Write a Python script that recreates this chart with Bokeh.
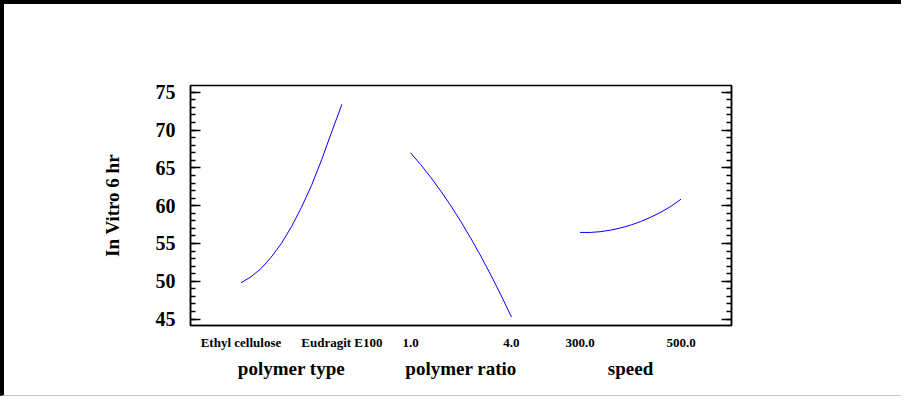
from bokeh.plotting import figure
from bokeh.models import Range1d, LinearAxis, FixedTicker
from bokeh.embed import file_html
from bokeh.resources import INLINE

# ---- data ----
factor_names = ["polymer type", "polymer ratio", "speed"]
level_labels = [["Ethyl cellulose", "Eudragit E100"], ["1.0", "4.0"], ["300.0", "500.0"]]
t_grid = [0.0, 0.1, 0.2, 0.3, 0.4, 0.5, 0.6, 0.7, 0.8, 0.9, 1.0]
polymer_type_resp = [49.8, 50.6, 51.7, 53.2, 55.0, 57.2, 59.8, 62.7, 66.1, 69.8, 73.4]
polymer_ratio_resp = [67.0, 65.45, 63.76, 61.93, 59.97, 57.87, 55.62, 53.24, 50.72, 48.06, 45.27]
speed_resp = [56.46, 56.46, 56.56, 56.76, 57.05, 57.43, 57.90, 58.48, 59.14, 59.91, 60.86]
responses = [polymer_type_resp, polymer_ratio_resp, speed_resp]
y_ticks = [45, 50, 55, 60, 65, 70, 75]
y_minor = list(range(44, 77))
y_title = "In Vitro 6 hr"

# ---- layout constants (x units) ----
SPAN, GAP, MARGIN = 100, 68, 50
offsets = [MARGIN + i * (SPAN + GAP) for i in range(3)]
FONT = "Liberation Serif"

W, H = 901, 396
p = figure(width=W, height=H, output_backend="svg", toolbar_location=None,
           x_range=Range1d(0, 2 * MARGIN + 3 * SPAN + 2 * GAP),
           y_range=Range1d(44.15, 75.9),
           x_axis_type=None, y_axis_type=None,
           min_border_left=186, min_border_right=174,
           min_border_top=81, min_border_bottom=75)
p.xgrid.visible = False
p.ygrid.visible = False
p.outline_line_color = "black"
p.outline_line_width = 1.5
p.outline_line_alpha = 1.0
p.styles = {"border-top": "4px solid black", "border-left": "4px solid black",
            "border-bottom": "1px solid #c8c8c8"}

for off, resp in zip(offsets, responses):
    xs = [off + t * SPAN for t in t_grid]
    p.line(xs, resp, line_color="#0000ff", line_width=1)

def style_y(ax):
    ax.major_tick_in = 10
    ax.major_tick_out = 0
    ax.minor_tick_in = 5
    ax.minor_tick_out = 0
    ax.axis_line_width = 1.5
    ax.major_tick_line_width = 1.5
    ax.minor_tick_line_width = 1.5
    ax.axis_line_color = "black"
    ax.major_tick_line_color = "black"
    ax.minor_tick_line_color = "black"

yax = LinearAxis(ticker=FixedTicker(ticks=y_ticks, minor_ticks=y_minor), axis_label=y_title)
style_y(yax)
yax.major_label_text_font = FONT
yax.major_label_text_font_style = "bold"
yax.major_label_text_font_size = "20px"
yax.major_label_text_color = "black"
yax.major_label_standoff = 15
yax.axis_label_text_font = FONT
yax.axis_label_text_font_style = "bold"
yax.axis_label_text_font_size = "19px"
yax.axis_label_text_color = "black"
yax.axis_label_standoff = 30
p.add_layout(yax, "left")

yax_r = LinearAxis(ticker=FixedTicker(ticks=y_ticks, minor_ticks=y_minor))
style_y(yax_r)
yax_r.major_label_overrides = {v: "" for v in y_ticks}
p.add_layout(yax_r, "right")

lvl_pos = []
lvl_over = {}
for off, labs in zip(offsets, level_labels):
    for k, lab in enumerate(labs):
        pos = off + k * SPAN
        lvl_pos.append(pos)
        lvl_over[pos] = lab
xax = LinearAxis(ticker=FixedTicker(ticks=lvl_pos, minor_ticks=[]))
xax.major_label_overrides = lvl_over
xax.major_tick_line_color = None
xax.minor_tick_line_color = None
xax.major_tick_out = 0
xax.major_tick_in = 0
xax.minor_tick_out = 0
xax.axis_line_width = 1.5
xax.axis_line_color = "black"
xax.major_label_text_font = FONT
xax.major_label_text_font_style = "bold"
xax.major_label_text_font_size = "13px"
xax.major_label_text_color = "black"
xax.major_label_standoff = 9
p.add_layout(xax, "below")

cen_pos = [off + SPAN // 2 for off in offsets]
xax2 = LinearAxis(ticker=FixedTicker(ticks=cen_pos, minor_ticks=[]))
xax2.major_label_overrides = {c: n for c, n in zip(cen_pos, factor_names)}
xax2.major_tick_line_color = None
xax2.minor_tick_line_color = None
xax2.major_tick_out = 0
xax2.major_tick_in = 0
xax2.minor_tick_out = 0
xax2.axis_line_color = None
xax2.major_label_text_font = FONT
xax2.major_label_text_font_style = "bold"
xax2.major_label_text_font_size = "19px"
xax2.major_label_text_color = "black"
xax2.major_label_standoff = 5
p.add_layout(xax2, "below")

open("out.html", "w").write(file_html(p, INLINE))
